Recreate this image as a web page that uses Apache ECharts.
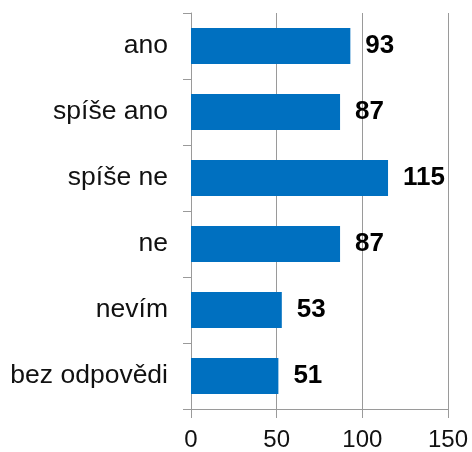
<!DOCTYPE html>
<html lang="cs">
<head>
    <meta charset="UTF-8">
    <title>bar</title>
    <style>
        html, body { margin: 0; padding: 0; background: #fff; }
        #main { width: 472px; height: 452px; }
    </style>
</head>
<body>
<div id="main"></div>
<script src="https://cdn.jsdelivr.net/npm/echarts@6/dist/echarts.min.js"></script>
<script>
    // data
    const categories = ['ano', 'spíše ano', 'spíše ne', 'ne', 'nevím', 'bez odpovědi'];
    const values = [93, 87, 115, 87, 53, 51];
    const xTicks = [0, 50, 100, 150];

    const chart = echarts.init(document.getElementById('main'));
    const axisGray = '#9a9a9a';

    chart.setOption({
        animation: false,
        grid: { left: 191, right: 24, top: 13, bottom: 43, containLabel: false },
        xAxis: {
            type: 'value',
            min: xTicks[0],
            max: xTicks[xTicks.length - 1],
            interval: 50,
            axisLine: { show: true, lineStyle: { color: axisGray, width: 1 } },
            axisTick: { show: true, length: 9, lineStyle: { color: axisGray } },
            splitLine: { show: true, lineStyle: { color: axisGray, width: 1 } },
            axisLabel: {
                margin: 19,
                fontFamily: 'Liberation Sans',
                fontSize: 24,
                color: '#111'
            }
        },
        yAxis: {
            type: 'category',
            inverse: true,
            data: categories,
            axisLine: { show: true, lineStyle: { color: axisGray, width: 1 } },
            axisTick: { show: true, length: 8, lineStyle: { color: axisGray } },
            axisLabel: {
                margin: 23,
                fontFamily: 'Liberation Sans',
                fontSize: 26.5,
                color: '#111'
            }
        },
        series: [{
            type: 'bar',
            data: values,
            barWidth: 36,
            itemStyle: { color: '#0070c0' },
            label: {
                show: true,
                position: 'right',
                distance: 15,
                fontFamily: 'Liberation Sans',
                fontSize: 26,
                fontWeight: 'bold',
                color: '#000'
            }
        }]
    });
</script>
</body>
</html>
